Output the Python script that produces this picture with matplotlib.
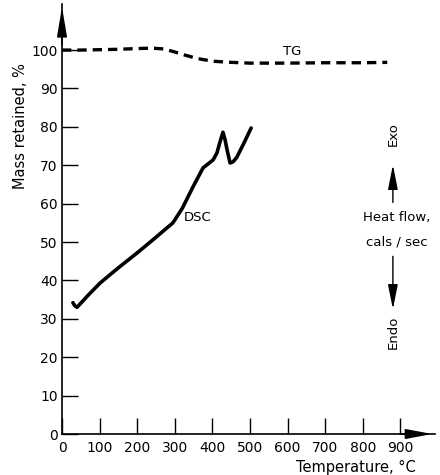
import matplotlib
matplotlib.use("Agg")
import matplotlib.pyplot as plt

# TG curve (mass retained, %)
tg_temp = [0, 50, 100, 150, 200, 240, 270, 300, 330, 360, 400, 450, 500, 600, 700, 800, 865]
tg_mass = [100, 100, 100.1, 100.2, 100.4, 100.5, 100.3, 99.5, 98.6, 97.8, 97.1, 96.8, 96.6, 96.6, 96.7, 96.7, 96.8]

# DSC curve (same scale as drawn)
dsc_temp = [29, 34, 40, 70, 101, 150, 199, 242, 295, 320, 348, 375, 402, 412, 420, 428, 434, 439, 447, 455, 465, 485, 503]
dsc_val = [34.2, 33.4, 33.0, 36.2, 39.3, 43.3, 47.1, 50.6, 55.0, 58.8, 64.3, 69.3, 71.4, 73.2, 76.0, 78.6, 76.5, 74.0, 70.6, 70.9, 72.1, 76.0, 79.7]

xticks = [0, 100, 200, 300, 400, 500, 600, 700, 800, 900]
yticks = [0, 10, 20, 30, 40, 50, 60, 70, 80, 90, 100]

plt.rcParams['font.family'] = ['DejaVu Sans']

fig = plt.figure(figsize=(4.4, 4.75), dpi=100)
ax = fig.add_axes([62 / 440, 41 / 475, 373 / 440, 430 / 475])

ax.plot(tg_temp, tg_mass, color='black', lw=2.4, linestyle=(0, (2.8, 1.8)), solid_capstyle='butt')
ax.plot(dsc_temp, dsc_val, color='black', lw=2.6, solid_joinstyle='round', solid_capstyle='round')

ax.set_xlim(0, 992)
ax.set_ylim(0, 112)
ax.set_xticks(xticks)
ax.set_yticks(yticks)
ax.tick_params(direction='in', length=11.5, width=1, labelsize=10, pad=3)
ax.tick_params(axis='x', pad=5)

for s in ['top', 'right']:
    ax.spines[s].set_visible(False)
for s in ['left', 'bottom']:
    ax.spines[s].set_linewidth(1.2)

# axis arrow heads
ax.annotate('', xy=(1, 0), xytext=(0.9, 0), xycoords='axes fraction',
            arrowprops=dict(arrowstyle='-|>,head_length=1.6,head_width=0.3', color='black', lw=1.2))
ax.annotate('', xy=(0, 1), xytext=(0, 0.9), xycoords='axes fraction',
            arrowprops=dict(arrowstyle='-|>,head_length=1.8,head_width=0.3', color='black', lw=1.2))

ax.set_ylabel('Mass retained, %', fontsize=10.5)
ax.yaxis.set_label_coords(-0.092, 0.715)
fig.text(356 / 440, 1 - 467 / 475, 'Temperature, °C', fontsize=10.5, ha='center', va='center')

ax.text(612, 99.7, 'TG', fontsize=9.5, ha='center', va='center')
ax.text(362, 56.5, 'DSC', fontsize=9.5, ha='center', va='center')

# heat flow annotation
ax.text(891, 56.3, 'Heat flow,', fontsize=9.5, ha='center', va='center')
ax.text(891, 50.0, 'cals / sec', fontsize=9.5, ha='center', va='center')
ax.annotate('', xy=(880, 70.8), xytext=(880, 59.6),
            arrowprops=dict(arrowstyle='-|>,head_length=1.5,head_width=0.3', color='black', lw=1))
ax.annotate('', xy=(880, 31.8), xytext=(880, 47.0),
            arrowprops=dict(arrowstyle='-|>,head_length=1.5,head_width=0.3', color='black', lw=1))
ax.text(880, 78.1, 'Exo', fontsize=9.5, rotation=90, ha='center', va='center')
ax.text(880, 26.6, 'Endo', fontsize=9.5, rotation=90, ha='center', va='center')

fig.savefig('out.png', dpi=100)
